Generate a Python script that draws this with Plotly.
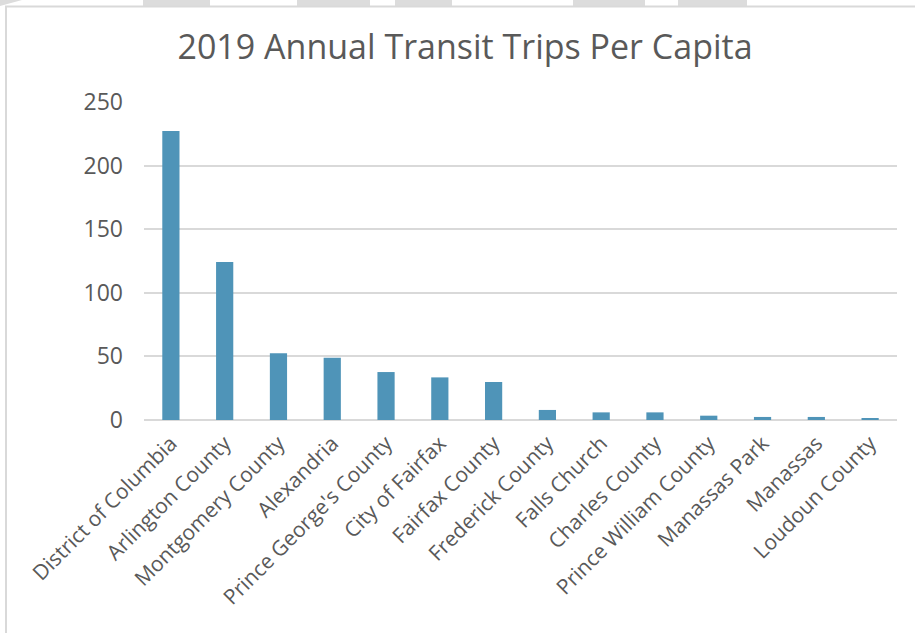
import plotly.graph_objects as go

categories = ["District of Columbia", "Arlington County", "Montgomery County", "Alexandria",
              "Prince George's County", "City of Fairfax", "Fairfax County", "Frederick County",
              "Falls Church", "Charles County", "Prince William County", "Manassas Park",
              "Manassas", "Loudoun County"]
trips = [227.2, 124.2, 52.4, 49.0, 37.7, 33.5, 29.9, 7.9, 6.0, 6.0, 3.4, 2.4, 2.4, 1.3]
y_ticks = [0, 50, 100, 150, 200, 250]

W, H = 915, 633
ML, MR, MT, MB = 144, 18, 102, 213
PW, PH = W - ML - MR, H - MT - MB

def px(x):
    return (x - ML) / PW

def py(y):
    return (H - MB - y) / PH

fig = go.Figure(go.Bar(
    x=categories, y=trips,
    marker=dict(color="#4f94b8", line=dict(width=0)),
    width=0.32,
))

shapes = []
grey = "#dcdcdc"
for x0, x1 in [(143, 210), (297, 370), (395, 452), (573, 645), (678, 747)]:
    shapes.append(dict(type="rect", xref="paper", yref="paper",
                       x0=px(x0), x1=px(x1), y0=py(6), y1=py(0),
                       fillcolor=grey, line=dict(width=0), layer="below"))
shapes.append(dict(type="path", xref="paper", yref="paper",
                   path=f"M {px(0)} {py(0)} L {px(22)} {py(0)} L {px(0)} {py(6)} Z",
                   fillcolor=grey, line=dict(width=0), layer="below"))
shapes.append(dict(type="line", xref="paper", yref="paper",
                   x0=px(5), x1=px(915), y0=py(6.5), y1=py(6.5),
                   line=dict(color="#d9d9d9", width=2)))
shapes.append(dict(type="line", xref="paper", yref="paper",
                   x0=px(6), x1=px(6), y0=py(6.5), y1=py(633),
                   line=dict(color="#d9d9d9", width=2)))

fig.update_layout(
    width=W, height=H,
    margin=dict(l=ML, r=MR, t=MT, b=MB),
    paper_bgcolor="white", plot_bgcolor="white",
    title=dict(text="2019 Annual Transit Trips Per Capita",
               x=465 / W, xref="container", xanchor="center", y=1 - 47 / H, yanchor="middle",
               font=dict(family="Open Sans, Arial", size=34, color="#595959")),
    showlegend=False,
    shapes=shapes,
    xaxis=dict(tickangle=-45, showgrid=False, showline=False, ticks="",
               ticklabelstandoff=6,
               tickfont=dict(family="Open Sans, Arial", size=21, color="#595959")),
    yaxis=dict(range=[0, 250], tickvals=y_ticks, showgrid=True, gridcolor="#d9d9d9",
               gridwidth=1.5, zeroline=True, zerolinecolor="#d9d9d9", zerolinewidth=2,
               showline=False, ticks="", ticklabelstandoff=20,
               tickfont=dict(family="Open Sans, Arial", size=23, color="#595959")),
)

fig.write_html("out.html")
